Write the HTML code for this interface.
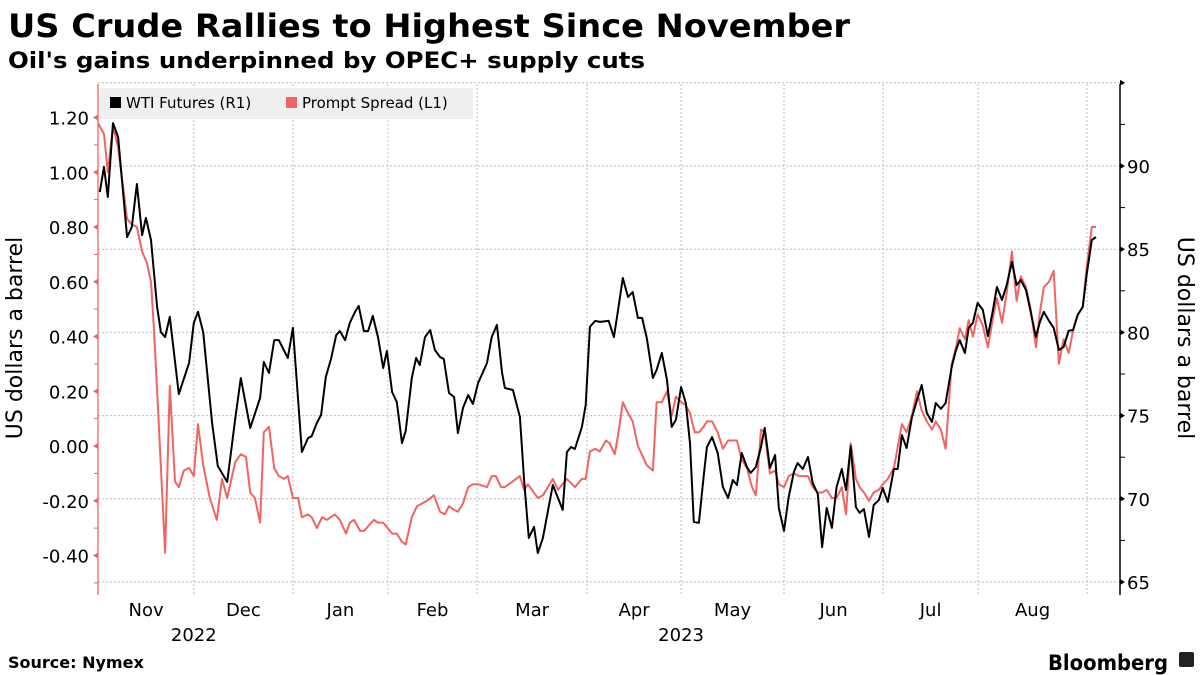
<!DOCTYPE html>
<html><head><meta charset="utf-8"><style>
html,body{margin:0;padding:0;background:#fff;}
svg{display:block;font-family:"DejaVu Sans","Liberation Sans",sans-serif;}
</style></head><body>
<svg id="chart" width="1200" height="675" viewBox="0 0 1200 675">
<text x="8" y="37" font-size="32" font-weight="bold" textLength="842" lengthAdjust="spacingAndGlyphs">US Crude Rallies to Highest Since November</text>
<text x="8" y="68" font-size="22" font-weight="bold" textLength="637" lengthAdjust="spacingAndGlyphs">Oil's gains underpinned by OPEC+ supply cuts</text>
<g id="grid"></g>
<g id="axes"></g>
<g id="series"></g>
<g>
<rect x="100" y="88" width="373" height="31" fill="#efefef"/>
<rect x="110" y="97" width="11" height="11" fill="#000"/>
<text x="126" y="108" font-size="15" fill="#000">WTI Futures (R1)</text>
<rect x="286" y="97" width="11" height="11" fill="#f06464"/>
<text x="302" y="108" font-size="15" fill="#000">Prompt Spread (L1)</text>
</g>
<text transform="translate(22,338) rotate(-90)" text-anchor="middle" font-size="22">US dollars a barrel</text>
<text transform="translate(1178,338) rotate(90)" text-anchor="middle" font-size="22">US dollars a barrel</text>
<text x="8" y="668" font-size="16" font-weight="bold">Source: Nymex</text>
<text x="1048" y="670" font-size="21" font-weight="bold" textLength="120" lengthAdjust="spacingAndGlyphs">Bloomberg</text>
<rect x="1179" y="652" width="15" height="15" rx="2" fill="#222"/>
</svg>
<script>
const wtiT=[0.6,1.5,2.3,3.4,4.5,6.4,7.4,8.5,9.6,10.4,11.5,12.8,13.6,14.5,15.5,17.4,19.6,20.6,21.5,22.6,24.5,25.7,27.7,29.4,30.6,32.6,34.7,35.5,36.6,37.7,38.7,40.6,41.7,43.6,44.9,45.7,46.8,47.7,48.7,49.8,50.9,51.7,52.8,53.8,54.9,55.7,56.8,57.7,58.7,59.8,60.9,61.7,62.8,63.8,64.9,65.7,67.0,67.9,68.7,69.8,70.9,71.9,73.0,73.8,74.9,76.0,76.8,77.9,79.0,80.0,81.1,83.0,84.0,85.1,86.2,86.8,88.5,90.0,90.9,91.9,93.0,93.8,94.9,97.0,99.1,100.0,100.9,101.7,103.2,104.0,104.9,106.0,107.0,108.9,110.0,110.9,111.9,113.0,114.0,115.1,116.0,117.0,118.3,119.1,120.2,121.3,122.3,123.2,124.3,125.3,126.2,127.0,128.1,129.1,129.8,130.9,132.1,133.2,134.3,135.3,136.2,137.2,138.3,139.1,140.2,141.3,142.1,143.2,144.3,145.1,146.2,147.2,148.3,149.1,150.2,151.3,152.3,153.4,154.3,155.3,156.4,157.4,158.5,159.4,160.4,161.5,162.3,163.2,164.3,165.3,166.4,167.2,168.3,169.6,170.4,171.3,172.3,173.4,174.5,175.5,176.6,177.7,178.5,179.6,180.6,181.9,182.8,183.6,184.7,185.5,186.4,187.4,188.5,189.6,190.6,191.5,192.6,193.6,194.7,195.7,196.6,197.7,198.7,199.8,200.6,201.5,202.6,203.6,204.7,205.7,206.8,207.7,208.7,209.8,210.6,211.7,212.6];
const wtiValues=[88.44,89.94,88.14,92.58,91.74,85.73,86.33,88.92,85.85,86.88,85.55,81.53,80.02,79.72,80.93,76.30,78.16,80.57,81.23,80.02,74.56,71.97,71.01,74.74,77.26,74.26,76.06,78.22,77.56,79.54,79.54,78.46,80.27,72.81,73.65,73.77,74.56,75.04,77.32,78.40,79.84,80.08,79.54,80.57,81.23,81.59,80.08,80.08,80.99,79.72,77.86,78.88,76.42,75.82,73.35,74.07,77.26,78.46,78.04,79.72,80.14,78.94,78.52,78.40,76.36,76.12,73.95,75.46,76.24,75.70,76.96,78.16,79.72,80.45,77.56,76.66,76.54,74.92,71.13,67.65,68.31,66.74,67.65,70.83,69.33,72.81,73.11,72.99,74.32,75.64,80.33,80.69,80.63,80.69,79.72,81.35,83.27,82.13,82.43,80.87,80.87,79.66,77.26,77.74,78.76,77.14,74.32,74.74,76.72,75.76,73.35,68.61,68.55,71.31,73.11,73.71,72.75,70.71,70.05,71.13,70.83,72.75,71.91,71.55,71.91,73.11,74.26,71.85,72.63,69.45,68.07,70.11,71.61,72.15,71.79,72.51,70.95,70.29,67.10,69.45,68.25,70.71,71.79,70.53,73.17,69.51,69.15,69.39,67.71,69.63,69.93,70.65,69.81,71.79,71.79,73.83,73.05,74.86,75.94,76.84,75.16,74.62,75.76,75.40,75.76,77.92,78.94,79.54,78.76,80.27,80.57,81.77,81.35,79.78,81.23,82.73,81.95,82.85,84.23,82.85,83.15,82.55,81.23,79.72,80.57,81.23,80.69,80.27,78.94,79.12,80.11,80.14,81.05,81.53,83.45,85.55,85.73];
const spreadT=[0.2,1.5,2.3,3.4,4.5,6.4,7.4,8.5,9.6,10.6,11.5,12.1,13.0,14.5,15.5,16.6,17.4,18.5,19.6,20.6,21.5,22.6,24.0,25.5,26.6,27.7,29.4,30.6,31.7,32.6,33.6,34.7,35.5,36.6,37.7,38.7,39.8,40.6,41.7,42.8,43.6,44.9,45.7,46.8,47.9,48.9,50.6,51.7,53.0,53.8,54.7,56.0,56.8,58.9,59.8,60.9,62.8,63.8,64.9,65.7,67.0,68.1,70.2,71.7,73.0,74.0,74.9,75.7,76.8,77.9,79.0,80.0,81.1,83.0,84.0,84.9,86.0,86.8,90.0,90.9,91.7,93.8,94.9,97.0,98.1,100.0,101.7,103.2,104.0,104.9,106.0,107.0,108.3,109.1,110.2,110.9,111.9,113.0,114.0,115.1,117.0,118.3,119.1,120.2,121.3,122.3,123.2,124.3,125.3,126.2,127.2,128.1,129.1,129.8,130.9,132.1,133.2,134.3,136.2,137.2,138.3,139.4,140.2,141.3,142.1,143.2,144.3,145.1,146.2,147.2,148.3,149.4,151.3,152.3,153.4,154.3,155.3,156.4,157.4,158.5,159.4,160.4,161.5,162.3,163.2,164.3,165.3,166.4,167.2,168.3,169.6,171.3,172.3,173.4,174.5,175.5,176.6,177.7,178.5,179.6,180.6,181.9,182.8,183.6,184.7,185.5,186.4,187.4,188.5,189.6,190.6,191.5,192.6,193.6,194.7,195.7,196.6,197.7,198.7,199.8,200.6,201.5,202.6,203.6,204.7,205.7,206.8,207.7,208.7,209.8,210.6,211.7,212.6];
const spreadValues=[1.18,1.14,1.00,1.17,1.09,0.83,0.81,0.80,0.71,0.67,0.60,0.43,0.13,-0.39,0.22,-0.13,-0.15,-0.09,-0.08,-0.11,0.08,-0.07,-0.19,-0.27,-0.12,-0.19,-0.06,-0.03,-0.04,-0.17,-0.19,-0.28,0.05,0.07,-0.08,-0.11,-0.12,-0.11,-0.19,-0.19,-0.26,-0.25,-0.26,-0.30,-0.26,-0.27,-0.25,-0.27,-0.32,-0.28,-0.27,-0.31,-0.31,-0.27,-0.28,-0.28,-0.32,-0.32,-0.35,-0.36,-0.26,-0.22,-0.20,-0.18,-0.24,-0.25,-0.22,-0.23,-0.24,-0.21,-0.15,-0.14,-0.14,-0.15,-0.11,-0.11,-0.15,-0.15,-0.11,-0.16,-0.14,-0.19,-0.18,-0.12,-0.16,-0.12,-0.15,-0.12,-0.12,-0.02,-0.01,-0.02,0.02,0.01,-0.03,0.04,0.16,0.12,0.09,0.00,-0.07,-0.09,0.16,0.16,0.20,0.11,0.18,0.16,0.15,0.12,0.05,0.05,0.07,0.09,0.09,0.05,-0.01,0.02,0.02,-0.05,-0.08,-0.15,-0.18,0.06,0.05,-0.10,-0.09,-0.14,-0.15,-0.11,-0.10,-0.11,-0.11,-0.15,-0.17,-0.17,-0.16,-0.19,-0.19,-0.15,-0.25,0.01,-0.12,-0.15,-0.17,-0.20,-0.17,-0.16,-0.14,-0.12,-0.08,0.08,0.05,0.11,0.20,0.13,0.09,0.06,0.09,0.06,-0.01,0.30,0.36,0.43,0.39,0.46,0.40,0.48,0.44,0.36,0.46,0.54,0.45,0.56,0.71,0.53,0.62,0.58,0.50,0.36,0.48,0.58,0.60,0.64,0.30,0.39,0.34,0.42,0.48,0.51,0.65,0.80,0.80];
const leftTicks=[1.20,1.00,0.80,0.60,0.40,0.20,0.00,-0.20,-0.40];
const leftTickLabels=["1.20","1.00","0.80","0.60","0.40","0.20","0.00","-0.20","-0.40"];
const rightTicks=[65,70,75,80,85,90,95];
const rightTickLabels=["65","70","75","80","85","90",""];
const monthStarts=[0.3,20.6,41.7,61.9,80.9,104.3,124.3,146.2,167.3,187.5,210.7];
const monthLabels=["Nov","Dec","Jan","Feb","Mar","Apr","May","Jun","Jul","Aug"];
const yearLabels=["2022","2023"];
const yearMonthIdx=[1,6];

const NS="http://www.w3.org/2000/svg";
const X0=97,X1=1096,TMAX=212.6;
const xS=t=>X0+(X1-X0)*t/TMAX;
const yL=v=>446-v*273.75;
const yR=v=>166-(v-90)*16.64;
function mk(tag,attrs,parent){const e=document.createElementNS(NS,tag);for(const k in attrs)e.setAttribute(k,attrs[k]);parent.appendChild(e);return e;}
const grid=document.getElementById('grid'),axes=document.getElementById('axes'),series=document.getElementById('series');
rightTicks.forEach((v,i)=>{
  const l=mk('line',{x1:98,x2:1120,y1:yR(v),y2:yR(v),stroke:'#bbb','stroke-dasharray':'2,2','stroke-width':1},grid);
  
  
  const tk=mk('path',{d:`M1120 ${yR(v)-3} L1125 ${yR(v)} L1120 ${yR(v)+3}Z`,fill:'#000'},axes);
  
  
  if(rightTickLabels[i]){const t=mk('text',{x:1127,y:yR(v)+7,'font-size':18},axes);t.textContent=rightTickLabels[i];
  
  }
  if(v<95){const m=mk('line',{x1:1120,x2:1125,y1:yR(v+2.5),y2:yR(v+2.5),stroke:'#000'},axes);
  
  }
});
monthStarts.forEach((t,i)=>{
  if(i>0){const l=mk('line',{x1:xS(t),x2:xS(t),y1:84,y2:595,stroke:'#bbb','stroke-dasharray':'2,2','stroke-width':1},grid);
  
  }
  if(i<monthLabels.length){const c=(xS(t)+xS(monthStarts[i+1]))/2;
  const tx=mk('text',{x:c,y:616,'font-size':18,'text-anchor':'middle'},axes);tx.textContent=monthLabels[i];
  
  }
});
yearLabels.forEach((y,i)=>{const k=yearMonthIdx[i];const c=xS(monthStarts[k]);
  const tx=mk('text',{x:c,y:641,'font-size':18,'text-anchor':'middle'},axes);tx.textContent=y;
  
  });
const la=mk('line',{x1:98,x2:98,y1:84,y2:595,stroke:'#f06464','stroke-width':1.3},axes);


const ra=mk('line',{x1:1120,x2:1120,y1:84,y2:595,stroke:'#000','stroke-width':1.5},axes);


leftTicks.forEach((v,i)=>{
  const tk=mk('path',{d:`M98 ${yL(v)-3} L93 ${yL(v)} L98 ${yL(v)+3}Z`,fill:'#f06464'},axes);
  
  
  const t=mk('text',{x:89,y:yL(v)+7,'font-size':18,'text-anchor':'end'},axes);t.textContent=leftTickLabels[i];
  
  
  const m=mk('line',{x1:94,x2:98,y1:yL(v-0.1),y2:yL(v-0.1),stroke:'#f06464'},axes);
  
  
});
const sp=mk('polyline',{points:spreadT.map((t,i)=>xS(t).toFixed(1)+','+yL(spreadValues[i]).toFixed(1)).join(' '),fill:'none',stroke:'#f06464','stroke-width':2,'stroke-linejoin':'round'},series);


const wl=mk('polyline',{points:wtiT.map((t,i)=>xS(t).toFixed(1)+','+yR(wtiValues[i]).toFixed(1)).join(' '),fill:'none',stroke:'#000','stroke-width':2,'stroke-linejoin':'round'},series);


</script>
</body></html>
